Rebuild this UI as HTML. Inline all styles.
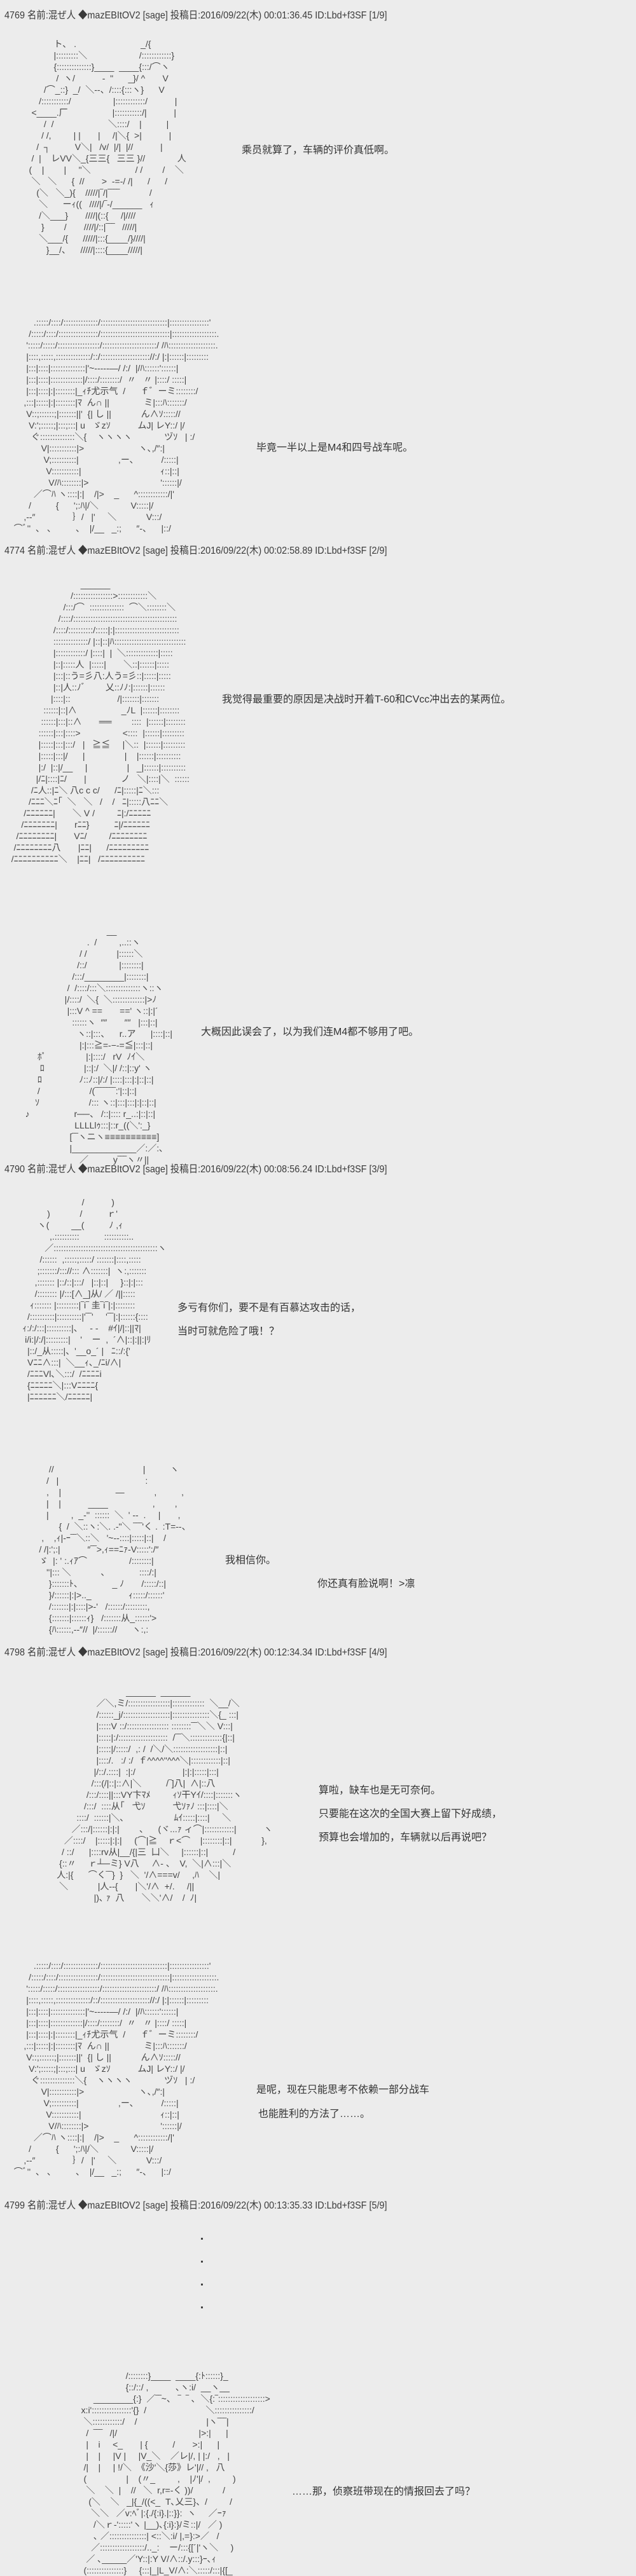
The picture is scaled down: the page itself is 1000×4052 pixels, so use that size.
<!DOCTYPE html>
<html><head><meta charset="utf-8">
<style>
html,body{margin:0;padding:0;background:#ececec;}
body{width:1000px;height:4049px;position:relative;overflow:hidden;font-family:"Liberation Sans","Noto Sans CJK SC",sans-serif;color:#333;}
.h{position:absolute;left:7px;font-size:16px;white-space:nowrap;transform-origin:0 50%;transform:scaleX(0.9);line-height:20px;color:#3a3a3a;}
.c{position:absolute;font-size:16px;white-space:nowrap;line-height:20px;color:#333;font-family:"Liberation Sans","Noto Sans CJK SC",sans-serif;}
pre{position:absolute;margin:0;font-family:"Liberation Sans","Noto Sans CJK JP",sans-serif;font-size:14px;line-height:18px;color:#444;white-space:pre;}
.d{position:absolute;left:316px;width:3px;height:3px;background:#444;}
</style></head><body>

<div class="h" style="top:15px">4769 名前:混ぜ人 ◆mazEBItOV2 [sage] 投稿日:2016/09/22(木) 00:01:36.45 ID:Lbd+f3SF [1/9]</div>
<pre style="left:30px;top:60px">              ト、 .                          _/{
              |:::::::::＼                     /::::::::::::}
              {::::::::::::::}____  ____{:::/⌒ヽ
               /  ヽ/           -  "      _}/ ^       V
          /⌒_::}  _/  ＼--、/::::{:::ヽ}      V
        /:::::::::::/                 |::::::::::::/           |
     <____.厂                  |:::::::::::/|           |
          /  /                      ＼::::/    |          |
         / /,         | |       |     /|＼{  >|           |
       /  ┐          V＼|   /v/  |/|  |//           |
     /  |    レVV＼_{三三{   三三 }//             人
    (    |        |     "＼                  / /        /    ＼
     ＼   ＼      {  //       >  -=-/ /|      /      /
       (＼   ＼_){    /////|‾/|‾‾‾‾            /
        ＼      ーｨ((   ////|/‾-/______   ｨ
        /＼___}       ////|(::{     /|////
         }        /       ////|/::|‾‾‾   /////|
        ＼___/{      /////|:::{____/}////|
           }__/、    /////|::::{____/////|</pre>
<div class="c" style="left:380px;top:227px">乘员就算了，车辆的评价真低啊。</div>

<pre style="left:14px;top:498px">          .:::::/::::/::::::::::::::/:::::::::::::::::::::::::::|::::::::::::::::'
        /:::::/::::/::::::::::::::::/::::::::::::::::::::::::::::|::::::::::::::::::.
       ':::::/:::::/:::::::::::::::::/::::::::::::::::::::::/ /ﾊ:::::::::::::::::::.
       |::::,:::::,::::::::::::::/::/:::::::::::::::::::://:/ |:|::::::|:::::::::
       |:::|::::|::::::::::::::|'~-----―/ /:/  |/ﾊ::::::'::::::|
       |:::|::::|:::::::::::::|/::::/::::::::/  〃   〃 |::::/ :::::|
       |:::|::::|:|::::::::|_ｨﾁ尤示气  /      ｆ゛ーミ::::::::/
      ,:::|:::::|:|::::::::|ﾏ  ん∩ ||              ミ|:::ﾊ:::::::/
       V::;::::::;|:::::::||'  {| し ||            ん∧ｿ::::://
        V:';:::::;|:::;:::| u   ゞzｿ           ムJ| レY::/ |/
         ぐ::::::::::::::＼{    ヽヽヽヽ             ヅｿ   | :/
             V|:::::::::::|>                      ヽ､,/″:|
              V;::::::::::|                ,ー､           /:::::|
               V:::::::::::|                                ｨ::|::|
                V/ﾊ::::::::|>                             '::::::|/
          ／⌒ﾊ ヽ::::|:|    /|>    _      ^::::::::::::/|'
        /          {      ';:ﾊ|/＼             V:::::|/
      ,--″               ｝/   |'     ＼            V:::/
  ⌒ﾞ''  、 、        、  |/__   _:;      ″-、    |::/</pre>
<div class="c" style="left:403px;top:695px">毕竟一半以上是M4和四号战车呢。</div>

<div class="h" style="top:857px">4774 名前:混ぜ人 ◆mazEBItOV2 [sage] 投稿日:2016/09/22(木) 00:02:58.89 ID:Lbd+f3SF [2/9]</div>
<pre style="left:10px;top:910px">                              ______
                          /::::::::::::::::>::::::::::::＼
                       /:::/⌒  ::::::::::::::  ⌒＼::::::::＼
                     /::::/::::::::::::::::::::::::::::::::::::::::::
                   /::::/::::::::::/:::::|:|::::::::::::::::::::::::::
                   ::::::::::::::/ |::|::|ﾊ:::::::::::::::::::::::::::::
                   |::::::::::::/ |::::|  |  ＼:::::::::::::|:::::
                   |::|:::::人  |:::::|       ＼::|::::::|:::::
                   |:::|::う=彡八:人う=彡::|:::::|:::::
                   |::|人::ﾉﾞ        乂::ﾉﾉ:|::::::|::::::
                  |::::|::                   /|:::::::|:::::::
               ::::::|::|∧                  _ﾉL  |::::::|::::::::
              ::::::|:::|::∧       ══        ::::  |::::::|::::::::
             ::::::|:::|::::>                 <::::  |::::::|:::::::::
             |:::::|:::|:::/   |   ≧≦     |＼::  |::::::|:::::::::
             |:::::|:::|/      |                |    |::::::|::::::::::
             |:/  |::|/__     |                |   _|::::::|::::::::::
            |/ﾆ|::::|ﾆ/       |              ノ   ＼|::::|＼  ::::::
          /ﾆ人::|ﾆ＼ 八c c c/      /ﾆ|:::::|ﾆ＼:::
         /ﾆﾆﾆ＼ﾆ｢  ＼   ＼   /    /   ﾆ|:::::八ﾆﾆ＼
       /ﾆﾆﾆﾆﾆﾆ|       ＼ V /         ﾆ|:/ﾆﾆﾆﾆﾆ
      /ﾆﾆﾆﾆﾆﾆﾆ|       rﾆﾆ}          ﾆ|/ﾆﾆﾆﾆﾆﾆ
    /ﾆﾆﾆﾆﾆﾆﾆﾆ|       Vﾆ/         /ﾆﾆﾆﾆﾆﾆﾆﾆ
   /ﾆﾆﾆﾆﾆﾆﾆﾆ八       |ﾆﾆ|      /ﾆﾆﾆﾆﾆﾆﾆﾆﾆ
  /ﾆﾆﾆﾆﾆﾆﾆﾆﾆﾆ＼    |ﾆﾆ|   /ﾆﾆﾆﾆﾆﾆﾆﾆﾆﾆ</pre>
<div class="c" style="left:349px;top:1091px">我觉得最重要的原因是决战时开着T-60和CVcc冲出去的某两位。</div>

<pre style="left:20px;top:1455px">                                      __
                              .  /         ,..::ヽ
                           / /            |::::::＼
                          /::/             |::::::::|
                        /:::/________|::::::::|
                      /  /::::/:::＼::::::::::::::ヽ::ヽ
                     |/::::/  ＼{  ＼:::::::::::::|>ﾉ
                      |:::V ^ ==       ==' ヽ::|:|´
                        ::::::ヽ  ″″       ″″   |:::|::|
                          ヽ::|:::、    r..ア      |::::|::|
                           |:|:::≧=-−-=≦|:::|::|
          ﾎﾟ                |:|::::/   rV  ﾉｲ＼
           ﾛ                |::|:/  ＼|/ /::|::y' ヽ
          ﾛ               ﾉ::ﾉ::|/:/ |::::|:::|:|::|::|
          /                    /(‾‾‾‾‾‾‾:'|::|::|
         ｿ                    /::: ヽ::|:::|:::|:|::|::|
     ♪                  r──、 /::|:::: r_..:|::|::|
                         LLLLlｩ:::|::r_((＼':_}
                       [‾‾ヽニヽ≡≡≡≡≡≡≡≡≡≡]
                       |_____________／:／:､
                           ／          y‾‾‾ヽ〃||</pre>
<div class="c" style="left:316px;top:1614px">大概因此误会了，以为我们连M4都不够用了吧。</div>

<div class="h" style="top:1830px">4790 名前:混ぜ人 ◆mazEBItOV2 [sage] 投稿日:2016/09/22(木) 00:08:56.24 ID:Lbd+f3SF [3/9]</div>
<pre style="left:8px;top:1882px">                               /           )
                 )            /          ｒ'
             ヽ(         __(          ﾉ ,ｨ
                  ,.::::::::::          ::::::::::..
                ／::::::::::::::::::::::::::::::::::::::::::ヽ
              /::::::  ,:::::;:::::/ :::::::|::::,:::::
             ;:::::::/::://::: ∧:::::::|  ヽ:,:::::::
            ,::::::: |::/::|:::/   |::|::|     }::|:|:::
            /:::::::: |/:::[∧_]从/ ／ /||:::::
          ｨ::::::: |:::::::::|‾i‾ 圭‾i‾|:|::::::::
         /::::::::::|::::::::::|'‾‾'     '‾‾|:|::::::{::::
       ｨ:/:/:::|::::::::::|、   - -    #ｲ|/|::||ﾏ|
        i/i:|/:/|:::::::::|    '    ー  ,  ´∧|::|:||:|ﾘ
         |::/_从:::::|、'__o_´ |   ﾆ::/:{'
         Vﾆﾆ∧:::|  ＼__ｨ､_/ﾆi/∧|
         /ﾆﾆﾆVl､＼:::/  /ﾆﾆﾆﾆi
         {ﾆﾆﾆﾆﾆ＼|:::Vﾆﾆﾆﾆ{
         |ﾆﾆﾆﾆﾆﾆ＼/ﾆﾆﾆﾆﾆ|</pre>
<div class="c" style="left:279px;top:2048px">多亏有你们，要不是有百慕达攻击的话，</div>
<div class="c" style="left:279px;top:2085px">当时可就危险了哦！？</div>

<pre style="left:38px;top:2302px">          //                                    |          ヽ
         /   |                                   :
         ,    |                      ―            ,          ,
         |    |           ____                  ,        ,
         |         ,  _-''  ::::::  ＼  ' --  .     |       ,
              {  /  ＼::ヽ:＼. .-"＼ ‾‾‾'く .  :T=--、
       ,    ,ｨ|-ｰ‾‾＼::＼   '~--::::|:::::|::|    /
      / /|:';:|           ″‾‾>,ｨ==ﾆｧ-V:::::':/″
      ゞ  |: ' :.ｨｱ⌒                 /::::::::|
         ''|::: ＼            、            ::::/:|
          }:::::::ﾄ、            _ ﾉ       /:::::/::|
          }/::::::|:|>.._               ｨ:::::/::::::'
          /:::::::|:|::::|>-'   /::::::/:::::::::,
          {:::::::|::::::ｨ}   /:::::::从_::::::'>
          {ﾊ::::::,--″//  |/:::::://      ヽ:,:</pre>
<div class="c" style="left:354px;top:2445px">我相信你。</div>
<div class="c" style="left:499px;top:2482px">你还真有脸说啊！>凛</div>

<div class="h" style="top:2590px">4798 名前:混ぜ人 ◆mazEBItOV2 [sage] 投稿日:2016/09/22(木) 00:12:34.34 ID:Lbd+f3SF [4/9]</div>
<pre style="left:62px;top:2652px">                                   ______  ______
                       ／＼,ミ/:::::::::::::::::|:::::::::::::  ＼__/＼
                       /::::::_j/:::::::::::::::::::|:::::::::::::::＼{_ :::|
                       |:::::V ::/::::::::::::::::: ::::::::‾‾＼＼ V:::|
                       |:::::|:/::::::::::::::::::::  /‾‾＼:::::::::::::{|::|
                       |:::::|/:::::/  ,: /  /＼/＼::::::::::::::::::|::|
                       |::::/.   :/ :/  ｆ^^^^''^^^＼|::::::::::::|::|
                      |/::/.::::|  :|:/                   |:|:|:::::|:::|
                     /:::(/|::|::∧|＼          /‾]八|  ∧|::八
                   /:::/::::||:::VY卞ﾏﾒ         ｨｿ干Yｲ/::::|:::::::ヽ
                  /:::/  ::::从｢   弋ｿ           弋ｿｧﾉ :::|::::|＼
               ::::/  ::::::|＼､                    ﾑｲ:::::|::::|     ＼
             ／:::/|::::::|:|:|        、    (ヾ...ｧ ィ⌒|::::::::::::|           ヽ
          ／::::/    |:::::|:|:|     (⌒|≧    ｒ<⌒    |::::::::|::|            },
         / ::/      |::::rv从|__/{|三  凵＼     |::::::|::|          /
        {::〃     ｒ┴─ミ} V八     ∧- 、  V,  ＼|∧:::|＼
       人:|{      ⌒く‾‾}  }   ＼  '/∧===v/     ,ﾊ    ＼|
        ＼            |人-‐{       |＼'/∧  +/.     /||
                      |)､ ｧ  八       ＼＼'∧/    /  ﾉ|</pre>
<div class="c" style="left:501px;top:2807px">算啦，缺车也是无可奈何。</div>
<div class="c" style="left:501px;top:2844px">只要能在这次的全国大赛上留下好成绩，</div>
<div class="c" style="left:501px;top:2881px">预算也会增加的，车辆就以后再说吧？</div>

<pre style="left:14px;top:3083px">          .:::::/::::/::::::::::::::/:::::::::::::::::::::::::::|::::::::::::::::'
        /:::::/::::/::::::::::::::::/::::::::::::::::::::::::::::|::::::::::::::::::.
       ':::::/:::::/:::::::::::::::::/::::::::::::::::::::::/ /ﾊ:::::::::::::::::::.
       |::::,:::::,::::::::::::::/::/:::::::::::::::::::://:/ |:|::::::|:::::::::
       |:::|::::|::::::::::::::|'~-----―/ /:/  |/ﾊ::::::'::::::|
       |:::|::::|:::::::::::::|/::::/::::::::/  〃   〃 |::::/ :::::|
       |:::|::::|:|::::::::|_ｨﾁ尤示气  /      ｆ゛ーミ::::::::/
      ,:::|:::::|:|::::::::|ﾏ  ん∩ ||              ミ|:::ﾊ:::::::/
       V::;::::::;|:::::::||'  {| し ||            ん∧ｿ::::://
        V:';:::::;|:::;:::| u   ゞzｿ           ムJ| レY::/ |/
         ぐ::::::::::::::＼{    ヽヽヽヽ             ヅｿ   | :/
             V|:::::::::::|>                      ヽ､,/″:|
              V;::::::::::|                ,ー､           /:::::|
               V:::::::::::|                                ｨ::|::|
                V/ﾊ::::::::|>                             '::::::|/
          ／⌒ﾊ ヽ::::|:|    /|>    _      ^::::::::::::/|'
        /          {      ';:ﾊ|/＼             V:::::|/
      ,--″               ｝/   |'     ＼            V:::/
  ⌒ﾞ''  、 、        、  |/__   _:;      ″-、    |::/</pre>
<div class="c" style="left:403px;top:3278px">是呢，现在只能思考不依赖一部分战车</div>
<div class="c" style="left:406px;top:3316px">也能胜利的方法了……。</div>

<div class="h" style="top:3460px">4799 名前:混ぜ人 ◆mazEBItOV2 [sage] 投稿日:2016/09/22(木) 00:13:35.33 ID:Lbd+f3SF [5/9]</div>
<div class="d" style="top:3520px"></div>
<div class="d" style="top:3556px"></div>
<div class="d" style="top:3592px"></div>
<div class="d" style="top:3628px"></div>

<pre style="left:112px;top:3728px">                      /::::::::}____  ____{:ﾄ::::::}_
                      {::/::/ ,           ､ヽ:i/  __ヽ__
         ________{:}  ／‾‾~、 ‾  ‾ ､  ＼{:‾:::::::::::::::::::>
    x:i'::::::::::::::::'{}  /                        ＼:::::::::::::::/
     ＼::::::::::::/    /                            |ヽ‾‾‾|
      /  ‾‾‾   /|/                                 |>:|      |
      |    i     <_       | {          /       >:|      |
      |    |     |V |     |V_＼    ／レ|/, | |:/   ,   |
     /|    |     | !/＼  《沙'＼{莎》レ'|// ,   八
     (                |    (〃_         ,    |ﾉ'|/  ,         )
      ＼    ＼  |    //   ＼  r,r=-く ))/            /
       (＼    ＼   _|{_/((<_  T､乂三}、/         /
        ＼＼   ／v:ﾍﾞ|:{./{:i}.|::}}:  ヽ     ／ｰｧ
         /＼ｒ-':::::'ヽ |__)､{:i}:}/ミ::|/   ／ )
         ､ ／:::::::::::::::| <::＼:i/ |,=}:>／   /
        ／::::::::::::::::::/.._:    ー/:::{[´|'ヽ＼     )
      ／ ､_____／'Y::|:Y V/∧::/.y:::}ｰ､ｨ
     (:::::::::::::::}     {:::|_|L_V/∧:＼:::::/:::|{[_</pre>
<div class="c" style="left:459px;top:3910px">……那，侦察班带现在的情报回去了吗？</div>

</body></html>
